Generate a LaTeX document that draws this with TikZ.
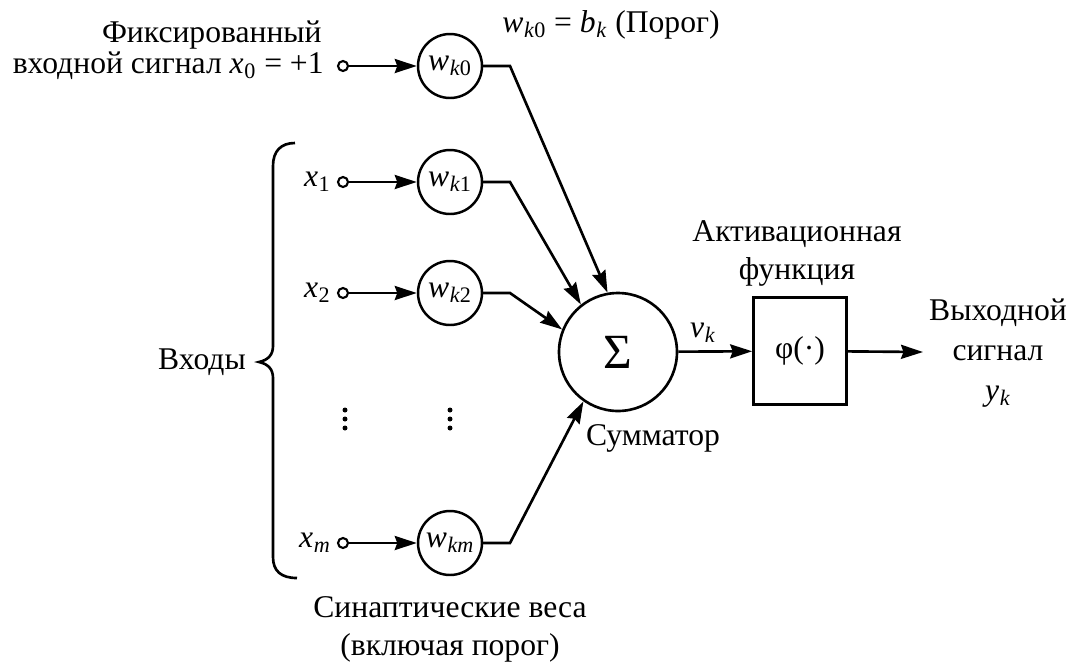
\documentclass[tikz,border=0pt]{standalone}
\usepackage{fontspec}
\setmainfont{Liberation Serif}
\usetikzlibrary{arrows.meta}
\newcommand\iv[2]{\textit{#1}\kern0.02em\textsubscript{#2}}
\begin{document}
\begin{tikzpicture}[x=0.02cm,y=-0.02cm,
  font=\fontsize{18}{21.6}\selectfont,
  wt/.style={circle,draw,line width=1.4pt,minimum size=1.28cm,inner sep=0pt},
  inp/.style={circle,draw,line width=1.2pt,minimum size=0.2cm,inner sep=0pt,fill=white},
  ln/.style={line width=1.5pt},
  arr/.style={ln,-{Stealth[length=0.44cm,width=0.28cm,inset=0.05cm]}},
  lbl/.style={inner sep=0pt,align=center}]
\useasboundingbox (0,0) rectangle (1069,664);

% weights
\node[wt] (w0) at (450,66)  {\iv{w}{\textit{k}0}};
\node[wt] (w1) at (450,182) {\iv{w}{\textit{k}1}};
\node[wt] (w2) at (450,293) {\iv{w}{\textit{k}2}};
\node[wt] (wm) at (450,543) {\iv{w}{\textit{km}}};

% inputs
\node[inp] (i0) at (343,66)  {};
\node[inp] (i1) at (343,182) {};
\node[inp] (i2) at (343,293) {};
\node[inp] (im) at (343,543) {};

\node[lbl,anchor=east] (x0) at (324,66) {входной сигнал \iv{x}{0} = +1};
\node[lbl,anchor=east] (fix) at (322,35) {Фиксированный};
\node[lbl,anchor=east] (x1) at (331,182) {\iv{x}{1}};
\node[lbl,anchor=east] (x2) at (331,293) {\iv{x}{2}};
\node[lbl,anchor=east] (xm) at (331,543) {\iv{x}{\textit{m}}};

\draw[arr] (i0) -- (w0);
\draw[arr] (i1) -- (w1);
\draw[arr] (i2) -- (w2);
\draw[arr] (im) -- (wm);

% dots
\foreach \xx in {345,450}{
  \foreach \yy in {410,419,428}{
    \fill (\xx,\yy) circle (0.05cm);
  }
}

% summator
\node[circle,draw,line width=1.5pt,minimum size=2.36cm,inner sep=0pt,font=\fontsize{28}{30}\selectfont] (sum) at (618,352) {Σ};
\node[lbl] (sumlbl) at (653,438) {Сумматор};

\coordinate (c0) at (510,66);
\coordinate (c1) at (510,182);
\coordinate (c2) at (510,293);
\coordinate (cm) at (510,543);
\draw[arr] (w0) -- (c0) -- (sum.100);
\draw[arr] (w1) -- (c1) -- (sum.128);
\draw[arr] (w2) -- (c2) -- (sum.158);
\draw[arr] (wm) -- (cm) -- (sum.235);

\node[lbl] (bias) at (611,25) {\iv{w}{\textit{k}0} = \iv{b}{\textit{k}} (Порог)};

% activation
\node[draw,line width=1.5pt,minimum width=1.86cm,minimum height=2.14cm,inner sep=0pt] (box) at (800,351) {φ(·)};
\node[lbl] (act) at (797,253) {Активационная\\функция};
\draw[arr] (sum) -- (box);
\node[lbl] (vk) at (703,333) {\iv{v}{\textit{k}}};

\coordinate (out) at (923,352);
\draw[arr] (box) -- (out);
\node[lbl] (outlbl) at (998,353) {Выходной\\[1pt]сигнал\\[1pt]\iv{y}{\textit{k}}};

% brace
\draw[ln] (295,143) .. controls (281,143) and (273,151) .. (273,166) -- (273,346)
  .. controls (273,355) and (268,360) .. (259,362)
  .. controls (268,364) and (273,369) .. (273,378) -- (273,557)
  .. controls (273,571) and (281,578) .. (297,578);
\node[lbl] (inputs) at (202,362) {Входы};

\node[lbl] (syn) at (450,629) {Синаптические веса\\(включая порог)};
\end{tikzpicture}
\end{document}
